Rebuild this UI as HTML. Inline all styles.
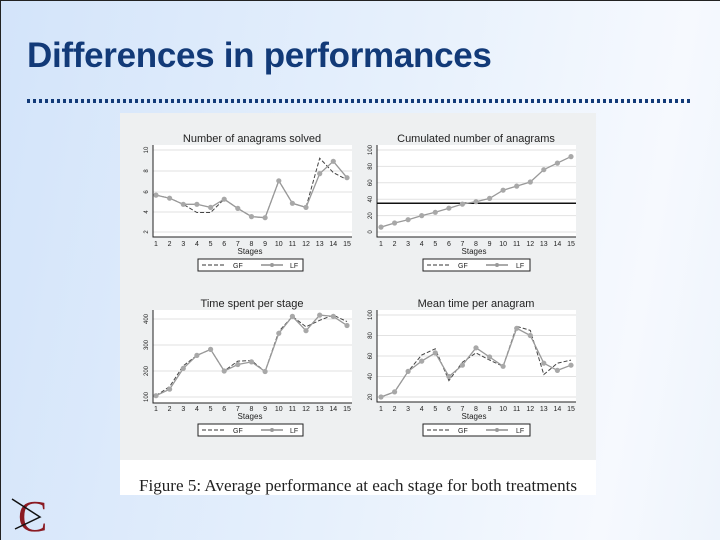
<!DOCTYPE html>
<html><head><meta charset="utf-8"><style>
html,body{margin:0;padding:0;}
body{width:720px;height:540px;overflow:hidden;position:relative;background:linear-gradient(100deg,#d3e4fa 0%,#e6f0fc 50%,#f6f9fe 85%,#eef4fc 100%);font-family:"Liberation Sans",sans-serif;}
.title{position:absolute;left:27px;top:36px;font-size:35px;font-weight:bold;color:#123a78;letter-spacing:-0.3px;white-space:nowrap;}
</style></head><body>
<div style="position:absolute;left:0;top:0;width:720px;height:1px;background:#222"></div>
<div style="position:absolute;left:0;top:0;width:1px;height:540px;background:#222"></div>
<div class="title">Differences in performances</div>
<div style="position:absolute;left:27px;top:99px;width:664px;height:4px;background:repeating-linear-gradient(90deg,#123a78 0 3px,transparent 3px 6px)"></div>
<svg width="720" height="540" style="position:absolute;left:0;top:0" font-family="Liberation Sans,sans-serif">
<rect x="120" y="113" width="476" height="347" fill="#eef0f1"/>
<rect x="120" y="460" width="476" height="35" fill="#fff"/>
<text x="358" y="491" font-family="Liberation Serif,serif" font-size="16.5" text-anchor="middle" fill="#222" textLength="438" lengthAdjust="spacingAndGlyphs">Figure 5: Average performance at each stage for both treatments</text>

<g fill="#fff"><rect x="153" y="145" width="199" height="92"/><rect x="377" y="145" width="199" height="92"/><rect x="153" y="310" width="199" height="93"/><rect x="377" y="310" width="199" height="92"/></g>
<g stroke="#e2e2e2" stroke-width="1">
<path d="M153 150H352M153 171H352M153 192H352M153 212H352M153 232H352"/>
<path d="M377 150H576M377 166.4H576M377 182.8H576M377 199.2H576M377 215.6H576M377 232H576"/>
<path d="M153 319H352M153 345H352M153 371H352M153 397H352"/>
<path d="M377 315H576M377 335.5H576M377 356H576M377 376.5H576M377 397H576"/>
</g>
<g stroke="#222" stroke-width="1" fill="none">
<path d="M153 145V237H352M377 145V237H576M153 310V403H352M377 310V402H576"/>
</g>
<g font-size="11" text-anchor="middle" fill="#222">
<text x="252" y="142">Number of anagrams solved</text>
<text x="476" y="142">Cumulated number of anagrams</text>
<text x="252" y="307">Time spent per stage</text>
<text x="476" y="307">Mean time per anagram</text>
</g>
<g font-size="8" text-anchor="middle" fill="#222">
<text x="250" y="254">Stages</text><text x="474" y="254">Stages</text>
<text x="250" y="419">Stages</text><text x="474" y="419">Stages</text>
</g>
<g font-size="7" text-anchor="middle" fill="#222">
<text y="246"><tspan x="156">1</tspan><tspan x="169.6">2</tspan><tspan x="183.3">3</tspan><tspan x="196.9">4</tspan><tspan x="210.6">5</tspan><tspan x="224.2">6</tspan><tspan x="237.8">7</tspan><tspan x="251.5">8</tspan><tspan x="265.1">9</tspan><tspan x="278.8">10</tspan><tspan x="292.4">11</tspan><tspan x="306">12</tspan><tspan x="319.7">13</tspan><tspan x="333.3">14</tspan><tspan x="347">15</tspan></text>
<text y="246"><tspan x="381">1</tspan><tspan x="394.6">2</tspan><tspan x="408.1">3</tspan><tspan x="421.7">4</tspan><tspan x="435.3">5</tspan><tspan x="448.9">6</tspan><tspan x="462.4">7</tspan><tspan x="476">8</tspan><tspan x="489.6">9</tspan><tspan x="503.1">10</tspan><tspan x="516.7">11</tspan><tspan x="530.3">12</tspan><tspan x="543.8">13</tspan><tspan x="557.4">14</tspan><tspan x="571">15</tspan></text>
<text y="411"><tspan x="156">1</tspan><tspan x="169.6">2</tspan><tspan x="183.3">3</tspan><tspan x="196.9">4</tspan><tspan x="210.6">5</tspan><tspan x="224.2">6</tspan><tspan x="237.8">7</tspan><tspan x="251.5">8</tspan><tspan x="265.1">9</tspan><tspan x="278.8">10</tspan><tspan x="292.4">11</tspan><tspan x="306">12</tspan><tspan x="319.7">13</tspan><tspan x="333.3">14</tspan><tspan x="347">15</tspan></text>
<text y="411"><tspan x="381">1</tspan><tspan x="394.6">2</tspan><tspan x="408.1">3</tspan><tspan x="421.7">4</tspan><tspan x="435.3">5</tspan><tspan x="448.9">6</tspan><tspan x="462.4">7</tspan><tspan x="476">8</tspan><tspan x="489.6">9</tspan><tspan x="503.1">10</tspan><tspan x="516.7">11</tspan><tspan x="530.3">12</tspan><tspan x="543.8">13</tspan><tspan x="557.4">14</tspan><tspan x="571">15</tspan></text>
</g>
<g font-size="6" text-anchor="middle" fill="#222">
<text transform="translate(148,150) rotate(-90)">10</text><text transform="translate(148,171) rotate(-90)">8</text><text transform="translate(148,192) rotate(-90)">6</text><text transform="translate(148,212) rotate(-90)">4</text><text transform="translate(148,232) rotate(-90)">2</text>
<text transform="translate(372,150) rotate(-90)">100</text><text transform="translate(372,166.4) rotate(-90)">80</text><text transform="translate(372,182.8) rotate(-90)">60</text><text transform="translate(372,199.2) rotate(-90)">40</text><text transform="translate(372,215.6) rotate(-90)">20</text><text transform="translate(372,232) rotate(-90)">0</text>
<text transform="translate(148,319) rotate(-90)">400</text><text transform="translate(148,345) rotate(-90)">300</text><text transform="translate(148,371) rotate(-90)">200</text><text transform="translate(148,397) rotate(-90)">100</text>
<text transform="translate(372,315) rotate(-90)">100</text><text transform="translate(372,335.5) rotate(-90)">80</text><text transform="translate(372,356) rotate(-90)">60</text><text transform="translate(372,376.5) rotate(-90)">40</text><text transform="translate(372,397) rotate(-90)">20</text>
</g>
<line x1="377" y1="203.3" x2="576" y2="203.3" stroke="#111" stroke-width="1.5"/>
<g stroke="#444" stroke-width="1" stroke-dasharray="4,2" fill="none">
<polyline points="156,195.1 169.6,198.2 183.3,204.3 196.9,212.5 210.6,212.5 224.2,199.2 237.8,208.4 251.5,216.6 265.1,217.7 278.8,180.8 292.4,203.3 306,207.4 319.7,158.2 333.3,172.6 347,179.7"/>
<polyline points="156,395.7 169.6,386.6 183.3,365.8 196.9,355.4 210.6,349.4 224.2,371 237.8,361.1 251.5,360.6 265.1,371.5 278.8,331.5 292.4,316.4 306,326.8 319.7,320.3 333.3,315.1 347,321.6"/>
<polyline points="381,397 394.6,391.9 408.1,371.4 421.7,355 435.3,348.8 448.9,380.6 462.4,362.2 476,352.9 489.6,360.1 503.1,366.3 516.7,326.3 530.3,330.4 543.8,374.5 557.4,363.2 571,360.1"/>
</g>
<g stroke="#999" stroke-width="1.3" fill="none">
<polyline points="156,195.1 169.6,198.2 183.3,204.3 196.9,204.3 210.6,207.4 224.2,199.2 237.8,208.4 251.5,216.6 265.1,217.7 278.8,180.8 292.4,203.3 306,207.4 319.7,173.6 333.3,161.3 347,177.7"/>
<polyline points="381,227.1 394.6,223 408.1,219.7 421.7,215.6 435.3,212.3 448.9,208.2 462.4,204.1 476,201.7 489.6,198.4 503.1,190.2 516.7,186.1 530.3,182 543.8,169.7 557.4,163.1 571,156.6"/>
<polyline points="156,395.7 169.6,389.2 183.3,368.4 196.9,355.4 210.6,349.4 224.2,371 237.8,364.5 251.5,361.9 265.1,371.5 278.8,333.3 292.4,316.4 306,330.7 319.7,315.1 333.3,316.4 347,325.5"/>
<polyline points="381,397 394.6,391.9 408.1,371.4 421.7,361.1 435.3,352.9 448.9,376.5 462.4,365.2 476,347.8 489.6,357 503.1,366.3 516.7,328.3 530.3,335.5 543.8,363.2 557.4,370.4 571,365.2"/>
</g>
<g fill="#a8a8a8">
<circle cx="156" cy="195.1" r="2.6"/><circle cx="169.6" cy="198.2" r="2.6"/><circle cx="183.3" cy="204.3" r="2.6"/><circle cx="196.9" cy="204.3" r="2.6"/><circle cx="210.6" cy="207.4" r="2.6"/><circle cx="224.2" cy="199.2" r="2.6"/><circle cx="237.8" cy="208.4" r="2.6"/><circle cx="251.5" cy="216.6" r="2.6"/><circle cx="265.1" cy="217.7" r="2.6"/><circle cx="278.8" cy="180.8" r="2.6"/><circle cx="292.4" cy="203.3" r="2.6"/><circle cx="306" cy="207.4" r="2.6"/><circle cx="319.7" cy="173.6" r="2.6"/><circle cx="333.3" cy="161.3" r="2.6"/><circle cx="347" cy="177.7" r="2.6"/>
<circle cx="381" cy="227.1" r="2.6"/><circle cx="394.6" cy="223" r="2.6"/><circle cx="408.1" cy="219.7" r="2.6"/><circle cx="421.7" cy="215.6" r="2.6"/><circle cx="435.3" cy="212.3" r="2.6"/><circle cx="448.9" cy="208.2" r="2.6"/><circle cx="462.4" cy="204.1" r="2.6"/><circle cx="476" cy="201.7" r="2.6"/><circle cx="489.6" cy="198.4" r="2.6"/><circle cx="503.1" cy="190.2" r="2.6"/><circle cx="516.7" cy="186.1" r="2.6"/><circle cx="530.3" cy="182" r="2.6"/><circle cx="543.8" cy="169.7" r="2.6"/><circle cx="557.4" cy="163.1" r="2.6"/><circle cx="571" cy="156.6" r="2.6"/>
<circle cx="156" cy="395.7" r="2.6"/><circle cx="169.6" cy="389.2" r="2.6"/><circle cx="183.3" cy="368.4" r="2.6"/><circle cx="196.9" cy="355.4" r="2.6"/><circle cx="210.6" cy="349.4" r="2.6"/><circle cx="224.2" cy="371" r="2.6"/><circle cx="237.8" cy="364.5" r="2.6"/><circle cx="251.5" cy="361.9" r="2.6"/><circle cx="265.1" cy="371.5" r="2.6"/><circle cx="278.8" cy="333.3" r="2.6"/><circle cx="292.4" cy="316.4" r="2.6"/><circle cx="306" cy="330.7" r="2.6"/><circle cx="319.7" cy="315.1" r="2.6"/><circle cx="333.3" cy="316.4" r="2.6"/><circle cx="347" cy="325.5" r="2.6"/>
<circle cx="381" cy="397" r="2.6"/><circle cx="394.6" cy="391.9" r="2.6"/><circle cx="408.1" cy="371.4" r="2.6"/><circle cx="421.7" cy="361.1" r="2.6"/><circle cx="435.3" cy="352.9" r="2.6"/><circle cx="448.9" cy="376.5" r="2.6"/><circle cx="462.4" cy="365.2" r="2.6"/><circle cx="476" cy="347.8" r="2.6"/><circle cx="489.6" cy="357" r="2.6"/><circle cx="503.1" cy="366.3" r="2.6"/><circle cx="516.7" cy="328.3" r="2.6"/><circle cx="530.3" cy="335.5" r="2.6"/><circle cx="543.8" cy="363.2" r="2.6"/><circle cx="557.4" cy="370.4" r="2.6"/><circle cx="571" cy="365.2" r="2.6"/>
</g>
<g font-size="7" fill="#222">
<rect x="198" y="259" width="105" height="12" fill="#fff" stroke="#222"/>
<line x1="202" y1="265" x2="224" y2="265" stroke="#333" stroke-dasharray="4,2"/><text x="233" y="268">GF</text>
<line x1="261" y1="265" x2="283" y2="265" stroke="#555"/><circle cx="272" cy="265" r="2" fill="#999"/><text x="290" y="268">LF</text>
<rect x="423" y="259" width="107" height="12" fill="#fff" stroke="#222"/>
<line x1="427" y1="265" x2="449" y2="265" stroke="#333" stroke-dasharray="4,2"/><text x="458" y="268">GF</text>
<line x1="486" y1="265" x2="508" y2="265" stroke="#555"/><circle cx="497" cy="265" r="2" fill="#999"/><text x="516" y="268">LF</text>
<rect x="198" y="424" width="105" height="12" fill="#fff" stroke="#222"/>
<line x1="202" y1="430" x2="224" y2="430" stroke="#333" stroke-dasharray="4,2"/><text x="233" y="433">GF</text>
<line x1="261" y1="430" x2="283" y2="430" stroke="#555"/><circle cx="272" cy="430" r="2" fill="#999"/><text x="290" y="433">LF</text>
<rect x="423" y="424" width="107" height="12" fill="#fff" stroke="#222"/>
<line x1="427" y1="430" x2="449" y2="430" stroke="#333" stroke-dasharray="4,2"/><text x="458" y="433">GF</text>
<line x1="486" y1="430" x2="508" y2="430" stroke="#555"/><circle cx="497" cy="430" r="2" fill="#999"/><text x="516" y="433">LF</text>
</g>
<text x="18" y="531" font-family="Liberation Serif,serif" font-size="44" fill="#8a1a22">C</text>
<path d="M12 499 L40 517 L15 529" stroke="#111" stroke-width="1.5" fill="none"/>
</svg>
</body></html>
